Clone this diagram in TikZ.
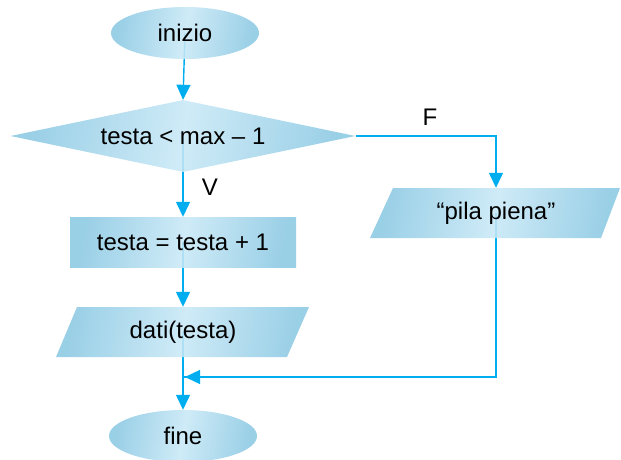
\documentclass[tikz,border=0pt]{standalone}
\usepackage{fontspec}
\setmainfont{Liberation Sans}
\usetikzlibrary{shapes.geometric,arrows.meta,backgrounds}
\definecolor{flowline}{HTML}{00AEEF}
\definecolor{boxdark}{HTML}{8CC9E3}
\definecolor{boxlight}{HTML}{C8E8F6}
\tikzset{
  shade fill/.style={left color=boxdark,right color=boxdark,middle color=boxlight,
    shading angle=80,fill opacity=0.88},
  term/.style={ellipse,shade fill,minimum width=148pt,minimum height=52pt,inner sep=0pt},
  test/.style={diamond,shade fill,aspect=4.8,minimum width=345pt,minimum height=72pt,inner sep=0pt},
  proc/.style={rectangle,shade fill,minimum width=226pt,minimum height=50pt,inner sep=0pt},
  io/.style={rectangle,minimum width=232pt,minimum height=50pt,inner sep=0pt},
  label/.style={inner sep=0pt},
  flow/.style={draw=flowline,line width=1.4pt,-{Triangle[length=15pt,width=14pt]}},
  plain/.style={draw=flowline,line width=1.4pt},
}
\begin{document}
\begin{tikzpicture}[x=1pt,y=-1pt,font=\fontsize{24}{27}\selectfont]
\useasboundingbox (0,0) rectangle (621,460);
% terminals, test and operation boxes
\node[term] (start) at (185,33) {};
\node[test] (cond) at (183,136) {};
\node[proc] (inc) at (183,242) {};
\node[io] (out) at (183,332) {};
\node[io] (full) at (496,213) {};
\node[term] (stop) at (183,436) {};
% slanted input/output boxes
\shade[shade fill] (77,307) -- (309,307) -- (287,357) -- (56,357) -- cycle;
\shade[shade fill] (393,188) -- (620,188) -- (601,238) -- (370,238) -- cycle;
% texts
\node at (start) {inizio};
\node at (cond) {testa < max – 1};
\node at (inc) {testa = testa + 1};
\node at (out) {dati(testa)};
\node at (full) {“pila piena”};
\node at (stop) {fine};
\node[label] (vlab) at (210,187) {V};
\node[label] (flab) at (430,117) {F};
% connectors behind the shapes
\coordinate (join) at (183,377);
\begin{scope}[on background layer]
  \draw[flow] (start.center) -- (cond.north);
  \draw[flow] (cond.center) -- (inc.north);
  \draw[flow] (inc.center) -- (out.north);
  \draw[flow] (out.center) -- (stop.north);
  \draw[flow] (cond.east) -| (full.north);
  \draw[plain] (full.center) |- (join);
  \draw[flow,shorten >=2pt] (full.center |- join) -- (join);
\end{scope}
\end{tikzpicture}
\end{document}
